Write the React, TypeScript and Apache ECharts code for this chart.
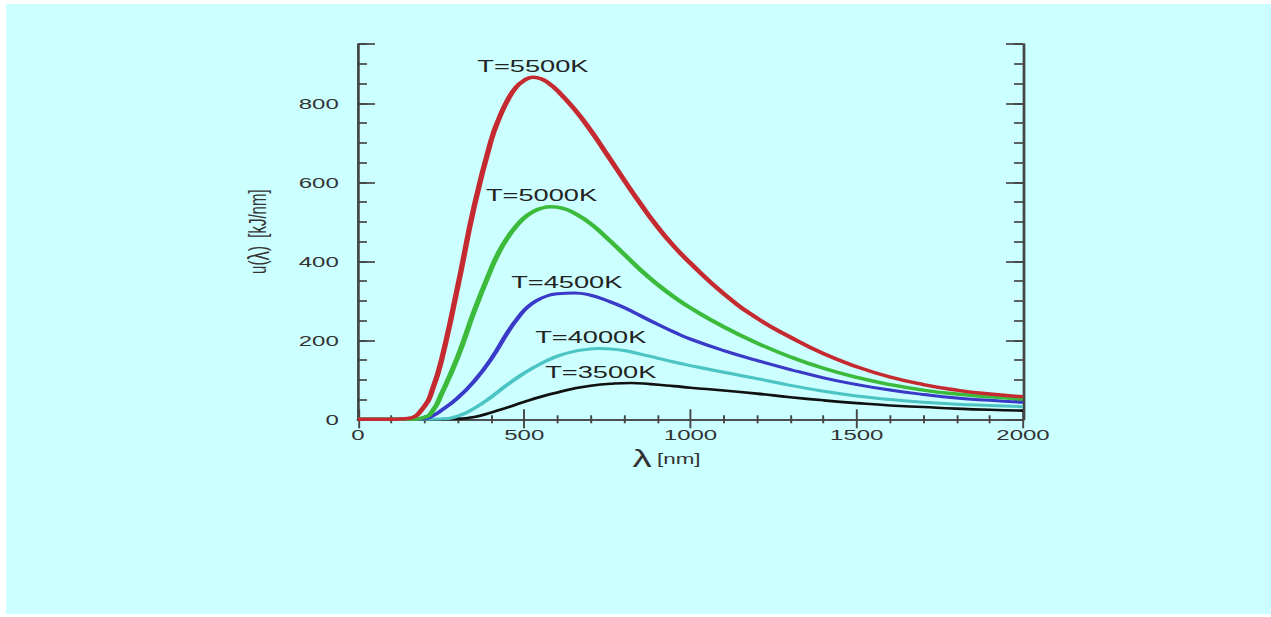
import React, { useEffect, useRef } from "react";
import * as echarts from "echarts";

// Wavelength samples (nm) and spectral energy density u(λ) [kJ/nm]
const lam5500 = [0, 100, 150, 200, 225, 250, 300, 350, 400, 425, 450, 475, 500, 525, 550, 575, 600, 650, 700, 750, 800, 850, 900, 950, 1000, 1100, 1200, 1300, 1400, 1500, 1600, 1700, 1800, 1900, 2000];
const u5500 = [0, 0, 2, 33, 78, 146, 336, 541, 705, 763, 808, 840, 858, 866, 862, 850, 832, 786, 731, 669, 606, 545, 488, 438, 395, 318, 256, 208, 166, 133, 107, 88, 74, 64, 57];

const lam5000 = [0, 100, 150, 200, 225, 250, 300, 350, 400, 425, 450, 475, 500, 525, 550, 580, 620, 650, 700, 750, 800, 850, 900, 950, 1000, 1100, 1200, 1300, 1400, 1500, 1600, 1700, 1800, 1900, 2000];
const u5000 = [0, 0, 0, 5, 22, 62, 158, 275, 380, 425, 460, 488, 510, 525, 534, 538, 533, 522, 495, 458, 418, 378, 342, 310, 282, 234, 193, 158, 129, 106, 88, 74, 64, 57, 51];

const lam4500 = [0, 100, 150, 200, 225, 250, 300, 350, 400, 450, 475, 500, 525, 550, 575, 600, 650, 700, 750, 800, 850, 900, 950, 1000, 1100, 1200, 1300, 1400, 1500, 1600, 1700, 1800, 1900, 2000];
const u4500 = [0, 0, 0, 2, 9, 22, 54, 97, 152, 220, 250, 276, 294, 306, 314, 318, 320, 314, 300, 283, 262, 241, 221, 203, 174, 149, 126, 105, 88, 74, 63, 54, 48, 43];

const lam4000 = [0, 100, 150, 200, 250, 300, 350, 400, 450, 500, 550, 600, 650, 690, 725, 760, 800, 850, 900, 950, 1000, 1100, 1200, 1300, 1400, 1500, 1600, 1700, 1800, 1900, 2000];
const u4000 = [0, 0, 0, 0, 1, 8, 28, 56, 88, 117, 141, 160, 172, 177, 179, 178, 174, 165, 155, 145, 136, 119, 103, 86, 71, 59, 50, 43, 38, 35, 32];

const lam3500 = [0, 100, 150, 200, 250, 300, 350, 400, 450, 500, 550, 600, 650, 700, 760, 820, 880, 950, 1000, 1100, 1200, 1300, 1400, 1500, 1600, 1700, 1800, 1900, 2000];
const u3500 = [0, 0, 0, 0, 0, 1, 6, 17, 30, 44, 57, 68, 78, 85, 90, 92, 89, 84, 80, 73, 65, 56, 48, 41, 35, 31, 27, 24, 22];

const curveNames = ["T=3500K", "T=4000K", "T=4500K", "T=5000K", "T=5500K"];
const curveLams = [lam3500, lam4000, lam4500, lam5000, lam5500];
const curveValues = [u3500, u4000, u4500, u5000, u5500];
// anchor of each curve label, in data units [λ, u]
const labelLambda = [730, 700, 628, 552, 526];
const labelU = [120, 209, 347, 569, 895];

const colors = ["#111111", "#4cc4c4", "#3a3ac8", "#3cba3c", "#c42a30"];
const widths = [2.6, 3, 3, 3.4, 3.4];

const S = 1.6; // horizontal stretch of the whole figure
const FONT = "'Liberation Sans', Arial, Helvetica, sans-serif";
const AX = "#454545";

export default function App() {
  const ref = useRef<HTMLDivElement>(null);

  useEffect(() => {
    if (!ref.current) return;
    const chart = echarts.init(ref.current, null, { renderer: "svg" });
    const series = curveValues.map((vals, i) => ({
      type: "line",
      name: curveNames[i],
      xAxisIndex: 0,
      yAxisIndex: 0,
      data: curveLams[i].map((x, j) => [x, vals[j]]),
      smooth: 0.5,
      showSymbol: false,
      lineStyle: { color: colors[i], width: widths[i] },
      itemStyle: { color: colors[i] },
      markPoint: {
        silent: true,
        symbol: "circle",
        symbolSize: 1,
        itemStyle: { color: "rgba(0,0,0,0)" },
        label: {
          show: true,
          position: "inside",
          formatter: () => curveNames[i],
          color: "#222",
          fontSize: 17,
          fontFamily: FONT,
        },
        data: [{ coord: [labelLambda[i], labelU[i]] }],
      },
    }));

    const yBase = {
      type: "value",
      min: 0,
      max: 950,
      splitLine: { show: false },
    };
    const xBase = {
      type: "value",
      min: 0,
      max: 2000,
      interval: 500,
      splitLine: { show: false },
    };

    chart.setOption({
      animation: false,
      backgroundColor: "transparent",
      grid: { left: 358 / S, top: 44, width: 665 / S, height: 375.3 },
      xAxis: [
        {
          ...xBase,
          position: "bottom",
          axisLine: { show: true, lineStyle: { color: AX, width: 1.7 } },
          axisTick: { show: true, inside: true, length: 10, lineStyle: { color: AX, width: 1.2 } },
          minorTick: { show: true, splitNumber: 5, length: 4, lineStyle: { color: AX, width: 1.2 } },
          axisLabel: { margin: 8, color: "#333", fontSize: 15, fontFamily: FONT, formatter: (v: number) => String(v) },
          name: "{l|λ} {n|[nm]}",
          nameLocation: "middle",
          nameGap: 26,
          nameTextStyle: {
            padding: [0, 30, 0, 0],
            rich: {
              l: { fontSize: 24, color: "#333", fontFamily: FONT },
              n: { fontSize: 14, color: "#333", fontFamily: FONT },
            },
          },
        },
        {
          ...xBase,
          position: "top",
          axisLine: { show: true, lineStyle: { color: AX, width: 1.7 } },
          axisTick: { show: true, inside: true, length: 9, lineStyle: { color: AX, width: 1.2 } },
          minorTick: { show: true, splitNumber: 5, length: 4, lineStyle: { color: AX, width: 1.2 } },
          axisLabel: { show: false },
        },
      ],
      yAxis: [
        {
          ...yBase,
          position: "left",
          interval: 50,
          axisLine: { show: true, lineStyle: { color: AX, width: 1.7 } },
          axisTick: { show: true, inside: true, length: 5.6, lineStyle: { color: AX, width: 1.7 } },
          axisLabel: {
            formatter: (v: number) => (v % 200 === 0 ? String(v) : ""),
            margin: 12,
            color: "#333",
            fontSize: 15,
            fontFamily: FONT,
          },
          name: "{a|u(}{b|λ}{a|)  [kJ/nm]}",
          nameLocation: "middle",
          nameRotate: 90,
          nameGap: 53,
          nameTextStyle: {
            rich: {
              a: { fontSize: 15, color: "#333", fontFamily: FONT },
              b: { fontSize: 19, color: "#333", fontFamily: FONT },
            },
          },
        },
        {
          ...yBase,
          position: "left",
          interval: 200,
          axisLine: { show: false },
          axisTick: { show: true, inside: true, length: 10.6, lineStyle: { color: AX, width: 1.7 } },
          axisLabel: { show: false },
        },
        {
          ...yBase,
          position: "right",
          interval: 50,
          axisLine: { show: true, lineStyle: { color: AX, width: 1.7 } },
          axisTick: { show: true, inside: true, length: 5.6, lineStyle: { color: AX, width: 1.7 } },
          axisLabel: { show: false },
        },
        {
          ...yBase,
          position: "right",
          interval: 200,
          axisLine: { show: false },
          axisTick: { show: true, inside: true, length: 10.6, lineStyle: { color: AX, width: 1.7 } },
          axisLabel: { show: false },
        },
      ],
      series,
    });
    return () => chart.dispose();
  }, []);

  return (
    <div style={{ position: "fixed", left: 0, top: 0, width: 1271, height: 617, background: "#ffffff", overflow: "hidden" }}>
      <div style={{ position: "absolute", left: 6, top: 4, width: 1265, height: 610, background: "#ccffff" }} />
      <div
        ref={ref}
        style={{
          position: "absolute",
          left: 0,
          top: 0,
          width: 1271 / S,
          height: 617,
          transform: `scaleX(${S})`,
          transformOrigin: "0 0",
        }}
      />
    </div>
  );
}
